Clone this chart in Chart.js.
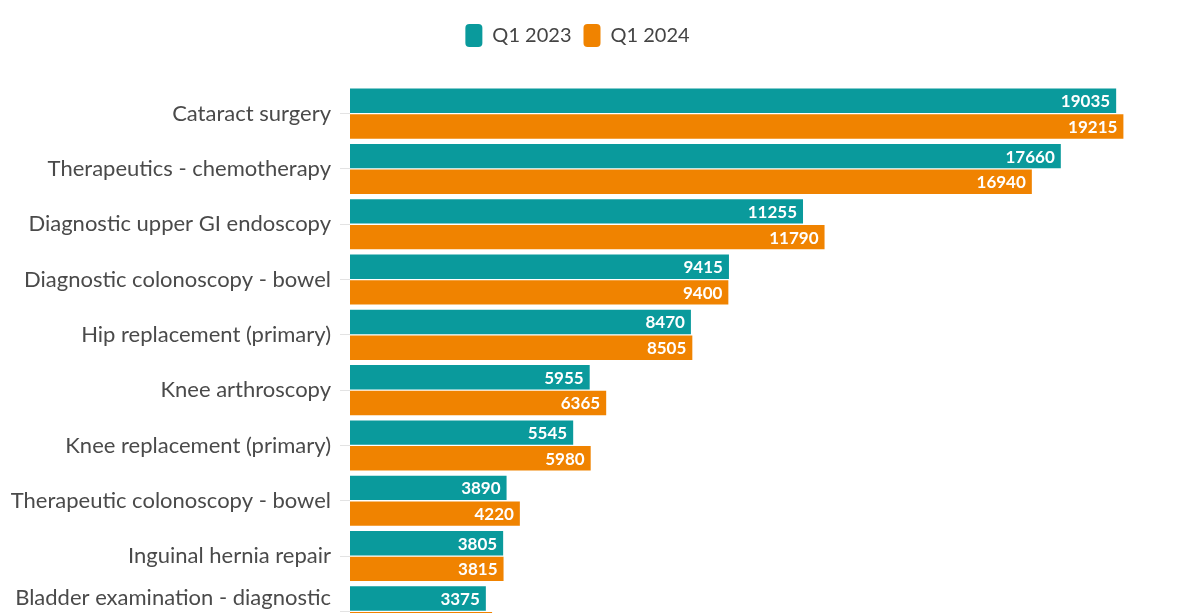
<!DOCTYPE html>
<html>
<head>
<meta charset="utf-8">
<script src="https://cdn.jsdelivr.net/npm/chart.js@4.4.1/dist/chart.umd.min.js"></script>
<style>
  html, body { margin: 0; padding: 0; background: #fff; overflow: hidden; }
  #wrap { width: 1178px; height: 662px; position: relative; }
</style>
</head>
<body>
<div id="wrap"><canvas id="procChart"></canvas></div>
<script>
const procedures = [
    'Cataract surgery',
    'Therapeutics - chemotherapy',
    'Diagnostic upper GI endoscopy',
    'Diagnostic colonoscopy - bowel',
    'Hip replacement (primary)',
    'Knee arthroscopy',
    'Knee replacement (primary)',
    'Therapeutic colonoscopy - bowel',
    'Inguinal hernia repair',
    ['Bladder examination - diagnostic', 'cystoscopy (outpatient)']
];
const q1_2023 = [19035, 17660, 11255, 9415, 8470, 5955, 5545, 3890, 3805, 3375];
const q1_2024 = [19215, 16940, 11790, 9400, 8505, 6365, 5980, 4220, 3815, 3530];

const fontFamily = 'Lato, "Open Sans", sans-serif';

// white value labels at the end of each bar
const barLabels = {
    id: 'barLabels',
    afterDatasetsDraw(chart) {
        const c = chart.ctx;
        c.save();
        c.font = 'bold 17px ' + fontFamily;
        c.fillStyle = '#fff';
        c.textAlign = 'right';
        c.textBaseline = 'middle';
        chart.data.datasets.forEach((ds, i) => {
            chart.getDatasetMeta(i).data.forEach((bar, j) => {
                c.fillText(ds.data[j], bar.x - 6, bar.y + 1);
            });
        });
        c.restore();
    }
};

// extra room under the legend
const legendGap = {
    id: 'legendGap',
    beforeInit(chart) {
        const fit = chart.legend.fit;
        chart.legend.fit = function () {
            fit.bind(chart.legend)();
            this.height += 29;
        };
    }
};

const ctx = document.getElementById('procChart').getContext('2d');
new Chart(ctx, {
    type: 'bar',
    data: {
        labels: procedures,
        datasets: [{
            label: 'Q1 2023',
            data: q1_2023,
            backgroundColor: '#0a9a9c'
        }, {
            label: 'Q1 2024',
            data: q1_2024,
            backgroundColor: '#f08300'
        }]
    },
    options: {
        indexAxis: 'y',
        responsive: true,
        maintainAspectRatio: false,
        animation: false,
        categoryPercentage: 0.93,
        barPercentage: 0.95,
        layout: { padding: { top: 12, right: 23, bottom: 23, left: 0 } },
        plugins: {
            legend: {
                position: 'top',
                labels: {
                    font: { family: fontFamily, size: 20 },
                    color: '#444',
                    boxWidth: 17,
                    boxHeight: 23,
                    useBorderRadius: true,
                    borderRadius: 4,
                    padding: 12
                }
            },
            tooltip: { enabled: false }
        },
        scales: {
            x: {
                display: false,
                min: 0,
                max: 20000
            },
            y: {
                afterFit(scale) { scale.width = 350; },
                border: { display: false },
                grid: {
                    offset: false,
                    drawOnChartArea: false,
                    tickLength: 10,
                    color: '#e3e3e3'
                },
                ticks: {
                    autoSkip: false,
                    font: { family: fontFamily, size: 22 },
                    color: '#4a4a4a',
                    padding: 9
                }
            }
        }
    },
    plugins: [barLabels, legendGap]
});
</script>
</body>
</html>
